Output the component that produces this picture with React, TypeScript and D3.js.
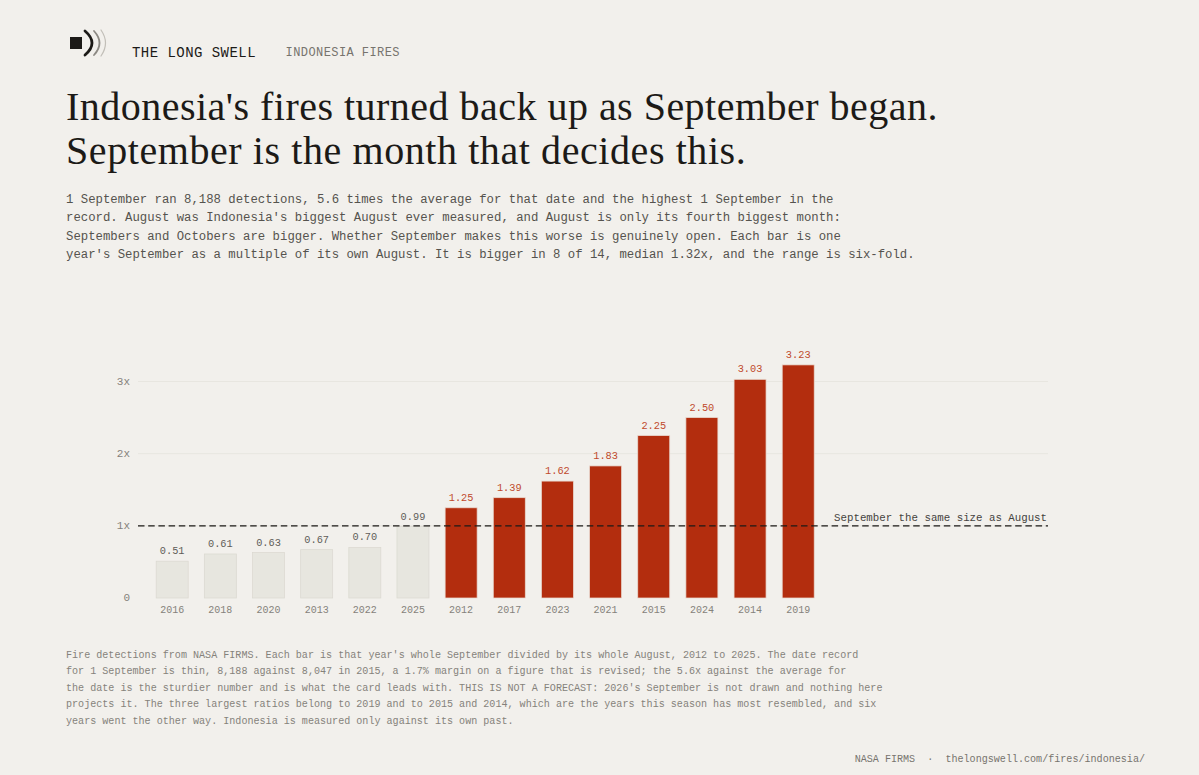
import React from 'react';
import * as d3 from 'd3';

const years = ['2016', '2018', '2020', '2013', '2022', '2025', '2012', '2017', '2023', '2021', '2015', '2024', '2014', '2019'];
const ratios = [0.51, 0.61, 0.63, 0.67, 0.70, 0.99, 1.25, 1.39, 1.62, 1.83, 2.25, 2.50, 3.03, 3.23];
const yTicks = [0, 1, 2, 3];
const yTickLabels = ['0', '1x', '2x', '3x'];
const descLines = [
  "1 September ran 8,188 detections, 5.6 times the average for that date and the highest 1 September in the",
  "record. August was Indonesia's biggest August ever measured, and August is only its fourth biggest month:",
  "Septembers and Octobers are bigger. Whether September makes this worse is genuinely open. Each bar is one",
  "year's September as a multiple of its own August. It is bigger in 8 of 14, median 1.32x, and the range is six-fold.",
];
const noteLines = [
  "Fire detections from NASA FIRMS. Each bar is that year's whole September divided by its whole August, 2012 to 2025. The date record",
  "for 1 September is thin, 8,188 against 8,047 in 2015, a 1.7% margin on a figure that is revised; the 5.6x against the average for",
  "the date is the sturdier number and is what the card leads with. THIS IS NOT A FORECAST: 2026's September is not drawn and nothing here",
  "projects it. The three largest ratios belong to 2019 and to 2015 and 2014, which are the years this season has most resembled, and six",
  "years went the other way. Indonesia is measured only against its own past.",
];

const mono = "'Liberation Mono', monospace";
const serif = "'Liberation Serif', serif";

export default function App() {
  const x = d3.scaleBand().domain(years).range([156.2, 814.2]).paddingInner(0.3357).paddingOuter(0);
  const y = d3.scaleLinear().domain([0, 3]).range([598, 381.5]);

  return (
    <svg width={1199} height={775} style={{ position: 'absolute', left: 0, top: 0, background: '#f2f0ec' }}>
      <rect x={70} y={37} width={12} height={12} fill="#1c1a17" />
      <path d="M85 31 Q99 43 85 55" fill="none" stroke="#1c1a17" strokeWidth={2.8} strokeLinecap="round" />
      <path d="M94 31 Q105 43 94 55" fill="none" stroke="#8d8a84" strokeWidth={1.8} strokeLinecap="round" />
      <path d="M101 30 Q110 43 101 56" fill="none" stroke="#c2bfb8" strokeWidth={1.2} strokeLinecap="round" />
      <text x={132} y={57} fontFamily={mono} fontSize={14} letterSpacing={0.46} fill="#1c1a17">THE LONG SWELL</text>
      <text x={285.5} y={56} fontFamily={mono} fontSize={12} letterSpacing={0.43} fill="#77746e">INDONESIA FIRES</text>

      <text x={66} y={120} fontFamily={serif} fontSize={40} letterSpacing={0.48} fill="#1c1a17">Indonesia's fires turned back up as September began.</text>
      <text x={66} y={164} fontFamily={serif} fontSize={40} letterSpacing={0.58} fill="#1c1a17">September is the month that decides this.</text>

      {descLines.map((l, i) => (
        <text key={i} x={66} y={203 + i * 18.4} fontFamily={mono} fontSize={12.3} fill="#55534e">{l}</text>
      ))}

      {yTicks.filter(t => t > 0).map(t => (
        <line key={t} x1={138} x2={1048} y1={y(t)} y2={y(t)} stroke="#e8e6e0" />
      ))}
      {yTicks.map((t, i) => (
        <text key={t} x={130} y={y(t) + 3} textAnchor="end" fontFamily={mono} fontSize={11} fill="#85827b">{yTickLabels[i]}</text>
      ))}

      {years.map((yr, i) => {
        const v = ratios[i];
        const big = v > 1;
        return (
          <g key={yr}>
            <rect x={x(yr)} y={y(v)} width={x.bandwidth()} height={y(0) - y(v)} fill={big ? '#b32d0e' : '#e7e6df'} stroke={big ? '#e9d9d0' : '#dbd9d1'} strokeWidth={0.75} />
            <text x={x(yr)! + x.bandwidth() / 2} y={y(v) - 7} textAnchor="middle" fontFamily={mono} fontSize={10.3} fill={big ? '#c0492b' : '#5f5d58'}>{v.toFixed(2)}</text>
            <text x={x(yr)! + x.bandwidth() / 2} y={612.5} textAnchor="middle" fontFamily={mono} fontSize={10} fill="#85827b">{yr}</text>
          </g>
        );
      })}

      <line x1={138} x2={1048} y1={y(1)} y2={y(1)} stroke="#1c1a17" strokeWidth={1.3} strokeDasharray="6.5 3.7" />
      <text x={1047} y={y(1) - 5} textAnchor="end" fontFamily={mono} fontSize={10.75} fill="#45433e">September the same size as August</text>

      {noteLines.map((l, i) => (
        <text key={i} x={66} y={657.5 + i * 16.6} fontFamily={mono} fontSize={10.08} fill="#85827b">{l}</text>
      ))}
      <text x={1145} y={762} textAnchor="end" fontFamily={mono} fontSize={10.08} fill="#77746e" xmlSpace="preserve">NASA FIRMS  ·  thelongswell.com/fires/indonesia/</text>
    </svg>
  );
}
